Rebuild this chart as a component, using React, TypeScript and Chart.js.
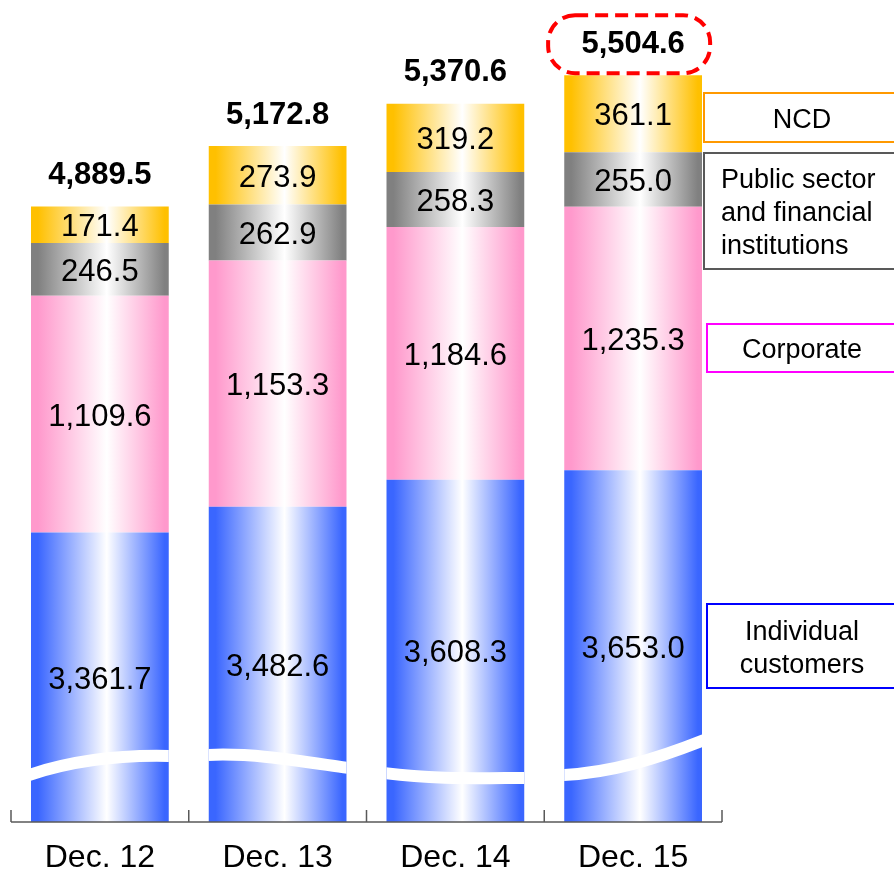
import React, { useEffect, useRef } from "react";
import { Chart, registerables } from "chart.js";
Chart.register(...registerables);

const categories = ["Dec. 12", "Dec. 13", "Dec. 14", "Dec. 15"];
const individual = [3361.7, 3482.6, 3608.3, 3653.0];
const corporate = [1109.6, 1153.3, 1184.6, 1235.3];
const publicSector = [246.5, 262.9, 258.3, 255.0];
const ncd = [171.4, 273.9, 319.2, 361.1];
const totals = [4889.5, 5172.8, 5370.6, 5504.6];
const seriesNames = ["Individual customers", "Corporate", "Public sector and financial institutions", "NCD"];
const seriesColors = ["#3A66FF", "#FF99CC", "#808080", "#FFC000"];
// axis-break wave in data units: [left, ctrl1, ctrl2, right]
const breakCurves = [
  [2225, 2300, 2320, 2314],
  [2319, 2330, 2290, 2258],
  [2234, 2205, 2211, 2211],
  [2225, 2235, 2300, 2389],
];
const Y_MIN = 2005;
const Y_MAX = 5810;
const BAR_PCT = 0.775;
const FONT = '"Liberation Sans", Arial, sans-serif';

const legendBoxes = [
  { lines: ["NCD"], color: "#FF9900", x: 704, y0: 93, y1: 142, align: "center" },
  { lines: ["Public sector", "and financial", "institutions"], color: "#595959", x: 704, y0: 153, y1: 269, align: "left" },
  { lines: ["Corporate"], color: "#FF00FF", x: 707, y0: 324, y1: 372, align: "center" },
  { lines: ["Individual", "customers"], color: "#0000FF", x: 707, y0: 604, y1: 688, align: "center" },
];

function fmt(v: number) {
  return v.toLocaleString("en-US", { minimumFractionDigits: 1, maximumFractionDigits: 1 });
}

function grad(color: string) {
  return (ctx: any) => {
    const chart = ctx.chart;
    const xs = chart.scales && chart.scales.x;
    if (!xs || ctx.dataIndex === undefined) return color;
    const cw = xs.width / categories.length;
    const half = (cw * BAR_PCT) / 2;
    const cx = xs.getPixelForValue(ctx.dataIndex);
    if (!isFinite(cx) || !isFinite(half) || half <= 0) return color;
    const g = chart.ctx.createLinearGradient(cx - half, 0, cx + half, 0);
    g.addColorStop(0, color);
    g.addColorStop(0.05, color);
    g.addColorStop(0.55, "#ffffff");
    g.addColorStop(0.97, color);
    g.addColorStop(1, color);
    return g;
  };
}

const decorPlugin = {
  id: "decor",
  afterDatasetsDraw(chart: any) {
    const ctx = chart.ctx as CanvasRenderingContext2D;
    const ys = chart.scales.y;
    const xs = chart.scales.x;
    const area = chart.chartArea;
    const base = chart.getDatasetMeta(0).data;

    // axis break waves
    base.forEach((el: any, i: number) => {
      const l = el.x - el.width / 2;
      const r = el.x + el.width / 2;
      const w = r - l;
      const c = breakCurves[i];
      ctx.save();
      ctx.beginPath();
      ctx.rect(l, area.top, w, area.bottom - area.top);
      ctx.clip();
      ctx.beginPath();
      ctx.moveTo(l - 2, ys.getPixelForValue(c[0]));
      ctx.bezierCurveTo(
        l + w / 3, ys.getPixelForValue(c[1]),
        l + (2 * w) / 3, ys.getPixelForValue(c[2]),
        r + 2, ys.getPixelForValue(c[3])
      );
      ctx.strokeStyle = "#ffffff";
      ctx.lineWidth = 12;
      ctx.stroke();
      ctx.restore();
    });

    // segment labels
    ctx.save();
    ctx.fillStyle = "#000";
    ctx.textAlign = "center";
    ctx.textBaseline = "middle";
    ctx.font = `31px ${FONT}`;
    chart.data.datasets.forEach((ds: any, di: number) => {
      const meta = chart.getDatasetMeta(di);
      meta.data.forEach((el: any, i: number) => {
        const top = Math.max(Math.min(el.y, el.base), area.top);
        const bot = Math.min(Math.max(el.y, el.base), area.bottom);
        ctx.fillText(fmt(ds.data[i]), el.x, (top + bot) / 2 + 3);
      });
    });
    // totals
    const topMeta = chart.getDatasetMeta(chart.data.datasets.length - 1);
    ctx.font = `bold 31px ${FONT}`;
    topMeta.data.forEach((el: any, i: number) => {
      const ty = el.y - 31;
      ctx.fillText(fmt(totals[i]), el.x, ty);
      if (i === totals.length - 1) {
        ctx.save();
        ctx.strokeStyle = "#FF0000";
        ctx.lineWidth = 4;
        ctx.setLineDash([13, 7]);
        ctx.beginPath();
        (ctx as any).roundRect(el.x - 85, ty - 29, 162, 58, 27);
        ctx.stroke();
        ctx.restore();
      }
    });
    ctx.restore();

    // axis line and ticks
    ctx.save();
    ctx.strokeStyle = "#595959";
    ctx.lineWidth = 1.5;
    ctx.beginPath();
    ctx.moveTo(area.left, area.bottom);
    ctx.lineTo(area.right, area.bottom);
    const cw = (area.right - area.left) / categories.length;
    for (let k = 0; k <= categories.length; k++) {
      const x = area.left + k * cw;
      ctx.moveTo(x, area.bottom);
      ctx.lineTo(x, area.bottom - 12);
    }
    ctx.stroke();
    ctx.restore();

    // category labels
    ctx.save();
    ctx.fillStyle = "#000";
    ctx.textAlign = "center";
    ctx.textBaseline = "middle";
    ctx.font = `32px ${FONT}`;
    categories.forEach((c, i) => {
      ctx.fillText(c, xs.getPixelForValue(i), area.bottom + 36);
    });
    ctx.restore();

    // legend boxes
    ctx.save();
    ctx.font = `27px ${FONT}`;
    ctx.fillStyle = "#000";
    ctx.textBaseline = "middle";
    legendBoxes.forEach((b) => {
      ctx.strokeStyle = b.color;
      ctx.lineWidth = 2;
      ctx.strokeRect(b.x, b.y0, 900 - b.x, b.y1 - b.y0);
      const cy = (b.y0 + b.y1) / 2 + 3;
      const lh = 33;
      b.lines.forEach((t, k) => {
        const y = cy + (k - (b.lines.length - 1) / 2) * lh;
        if (b.align === "left") {
          ctx.textAlign = "left";
          ctx.fillText(t, b.x + 17, y);
        } else {
          ctx.textAlign = "center";
          ctx.fillText(t, 802, y);
        }
      });
    });
    ctx.restore();
  },
};

export default function App() {
  const ref = useRef<HTMLCanvasElement>(null);
  useEffect(() => {
    if (!ref.current) return;
    const seriesData = [individual, corporate, publicSector, ncd];
    const chart = new Chart(ref.current, {
      type: "bar",
      data: {
        labels: categories,
        datasets: seriesData.map((d, i) => ({
          label: seriesNames[i],
          data: d,
          backgroundColor: grad(seriesColors[i]),
          borderWidth: 0,
          barPercentage: BAR_PCT,
          categoryPercentage: 1,
        })),
      },
      options: {
        responsive: false,
        animation: false,
        devicePixelRatio: 1,
        layout: { padding: { left: 11, right: 172, top: 10, bottom: 47 } },
        plugins: { legend: { display: false }, tooltip: { enabled: false } },
        scales: {
          x: { stacked: true, display: false },
          y: { stacked: true, display: false, min: Y_MIN, max: Y_MAX },
        },
      },
      plugins: [decorPlugin],
    });
    return () => chart.destroy();
  }, []);
  return (
    <div style={{ position: "absolute", left: 0, top: 0, width: 894, height: 869, background: "#fff" }}>
      <canvas ref={ref} width={894} height={869} />
    </div>
  );
}
